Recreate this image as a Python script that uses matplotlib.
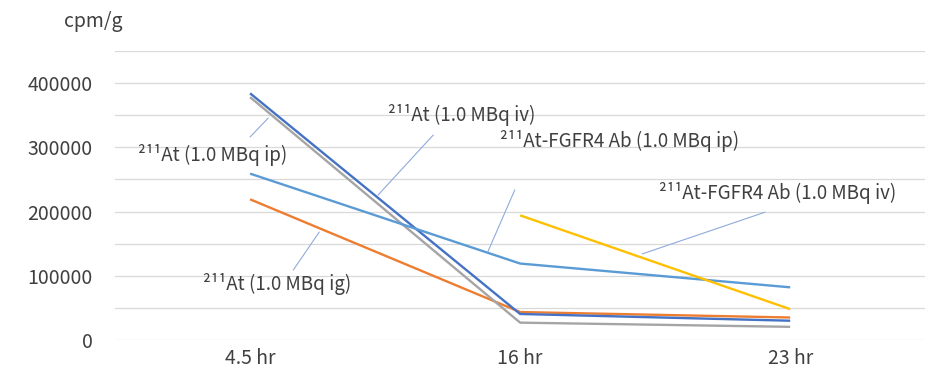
import matplotlib.pyplot as plt

plt.rcParams['font.family'] = ['Noto Sans CJK JP', 'DejaVu Sans']

horas = ['4.5 hr', '16 hr', '23 hr']

at_iv = [384000, 40500, 30000]
at_ip = [378000, 27000, 20500]
ab_ip = [259000, 119000, 82000]
at_ig = [219000, 43500, 35000]
ab_iv = [None, 194000, 48000]

series = [
    (at_ig, '#ED7D31'),
    (at_ip, '#A5A5A5'),
    (at_iv, '#4472C4'),
    (ab_ip, '#5B9BD5'),
    (ab_iv, '#FFC000'),
]

# etiquetas: texto, posicion del texto, inicio y fin de la linea guia
etiquetas = [
    ('²¹¹At (1.0 MBq ip)', (-0.14, 288000), (0.0, 316000), (0.067, 345500)),
    ('²¹¹At (1.0 MBq iv)', (0.785, 350000), (0.678, 319000), (0.474, 225700)),
    ('²¹¹At-FGFR4 Ab (1.0 MBq ip)', (1.37, 310000), (0.98, 233500), (0.88, 137000)),
    ('²¹¹At-FGFR4 Ab (1.0 MBq iv)', (1.955, 229000), (1.907, 199000), (1.452, 134000)),
    ('²¹¹At (1.0 MBq ig)', (0.10, 87000), (0.16, 109000), (0.256, 168000)),
]

fig = plt.figure(figsize=(9.28, 3.69), dpi=100)
ax = fig.add_axes([0.124, 0.0786, 0.873, 0.7834])

x = list(range(len(horas)))
for valores, color in series:
    xs = [i for i, v in zip(x, valores) if v is not None]
    ys = [v for v in valores if v is not None]
    ax.plot(xs, ys, color=color, linewidth=1.7, solid_capstyle='butt')

for texto, pos, ini, fin in etiquetas:
    ax.annotate('', xy=fin, xytext=ini,
                arrowprops=dict(arrowstyle='-', color='#8FAADC', linewidth=0.8,
                                shrinkA=0, shrinkB=0))
    ax.text(pos[0], pos[1], texto, ha='center', va='center', fontsize=13.5, color='#404040')

ax.set_xlim(-0.5, 2.5)
ax.set_ylim(0, 450000)
ax.set_xticks(x)
ax.set_xticklabels(horas)
ax.set_yticks(range(0, 450001, 50000), minor=False)
ax.set_yticklabels([str(v) if v % 100000 == 0 else '' for v in range(0, 450001, 50000)])
ax.grid(axis='y', color='#D9D9D9', linewidth=0.9)
ax.set_axisbelow(True)
for s in ax.spines.values():
    s.set_visible(False)
ax.tick_params(length=0, labelsize=14, labelcolor='#404040', pad=16)
ax.tick_params(axis='x', pad=6)

fig.text(93 / 928, 1 - 22 / 369, 'cpm/g', ha='center', va='center', fontsize=14, color='#404040')

fig.savefig('out.png', dpi=100)
